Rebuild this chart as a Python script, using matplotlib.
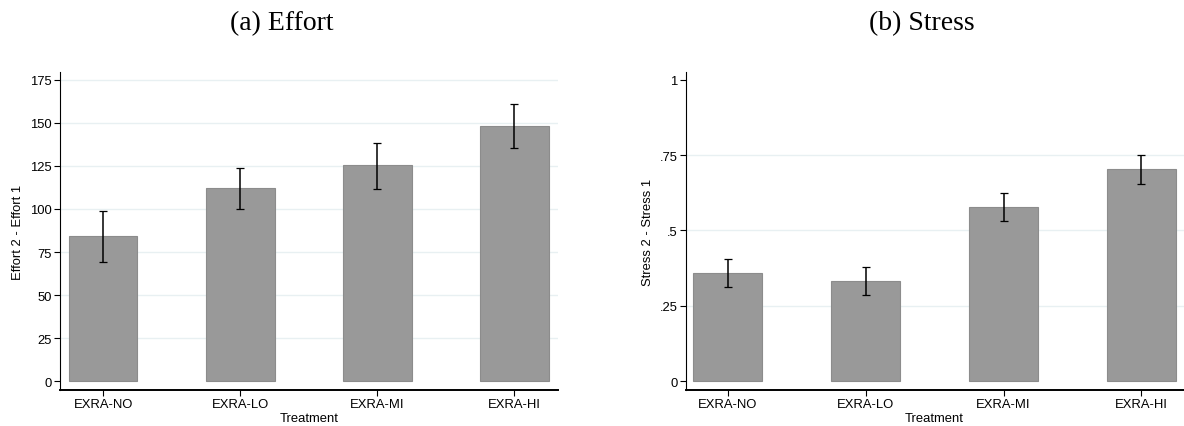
import matplotlib
matplotlib.use('Agg')
from matplotlib import pyplot as plt

# --- DATA ---
treatments = ['EXRA-NO', 'EXRA-LO', 'EXRA-MI', 'EXRA-HI']

effort_mean = [84.1, 112.0, 125.3, 147.9]
effort_lo = [69.2, 100.2, 111.6, 135.4]
effort_hi = [98.6, 123.6, 138.5, 160.9]
effort_ticks = [0, 25, 50, 75, 100, 125, 150, 175]
effort_ticklabels = ['0', '25', '50', '75', '100', '125', '150', '175']

stress_mean = [0.358, 0.332, 0.577, 0.703]
stress_lo = [0.313, 0.286, 0.530, 0.654]
stress_hi = [0.405, 0.378, 0.623, 0.750]
stress_ticks = [0, 0.25, 0.5, 0.75, 1]
stress_ticklabels = ['0', '.25', '.5', '.75', '1']

BAR_COLOR = '#999999'
EDGE_COLOR = '#8c8c8c'
GRID_COLOR = '#e8f0f2'

plt.rcParams['font.family'] = ['Liberation Sans', 'DejaVu Sans']


def draw_panel(ax, means, lo, hi, ticks, ticklabels, grid_vals, ylim, xlim, ylabel):
    x = list(range(1, len(means) + 1))
    for g in grid_vals:
        ax.axhline(g, color=GRID_COLOR, lw=1.0, zorder=0)
    ax.bar(x, means, width=0.5, color=BAR_COLOR, edgecolor=EDGE_COLOR, linewidth=0.8, zorder=2)
    yerr = [[m - l for m, l in zip(means, lo)], [h - m for m, h in zip(means, hi)]]
    ax.errorbar(x, means, yerr=yerr, fmt='none', ecolor='black', elinewidth=1.1,
                capsize=2.8, capthick=0.9, zorder=3)

    ax.set_xlim(*xlim)
    ax.set_ylim(*ylim)
    ax.set_xticks(x)
    ax.set_xticklabels(treatments, fontsize=9.4)
    ax.set_yticks(ticks)
    ax.set_yticklabels(ticklabels, fontsize=9.4)
    ax.tick_params(axis='both', direction='out', length=4, width=0.8, color='black', pad=2)
    ax.set_xlabel('Treatment', fontsize=9.4, labelpad=1.5)
    ax.set_ylabel(ylabel, fontsize=9.4, labelpad=4)

    for side in ['top', 'right']:
        ax.spines[side].set_visible(False)
    ax.spines['left'].set_linewidth(0.8)
    ax.spines['bottom'].set_linewidth(1.4)


fig = plt.figure(figsize=(11.84, 4.27), dpi=100)

ax1 = fig.add_axes([0.0507, 0.0843, 0.4203, 0.7447])
draw_panel(ax1, effort_mean, effort_lo, effort_hi, effort_ticks, effort_ticklabels,
           effort_ticks[1:], (-5.05, 179.5), (0.685, 4.315), 'Effort 2 - Effort 1')

ax2 = fig.add_axes([0.5791, 0.0843, 0.4205, 0.7447])
draw_panel(ax2, stress_mean, stress_lo, stress_hi, stress_ticks, stress_ticklabels,
           stress_ticks[1:-1], (-0.0289, 1.0255), (0.694, 4.306), 'Stress 2 - Stress 1')

title_font = ['Liberation Serif', 'DejaVu Serif']
fig.text(282 / 1184, 1 - 24 / 427, '(a) Effort', ha='center', va='center',
         fontsize=20, family=title_font)
fig.text(922 / 1184, 1 - 24 / 427, '(b) Stress', ha='center', va='center',
         fontsize=20, family=title_font)

fig.savefig('out.png', dpi=100)
